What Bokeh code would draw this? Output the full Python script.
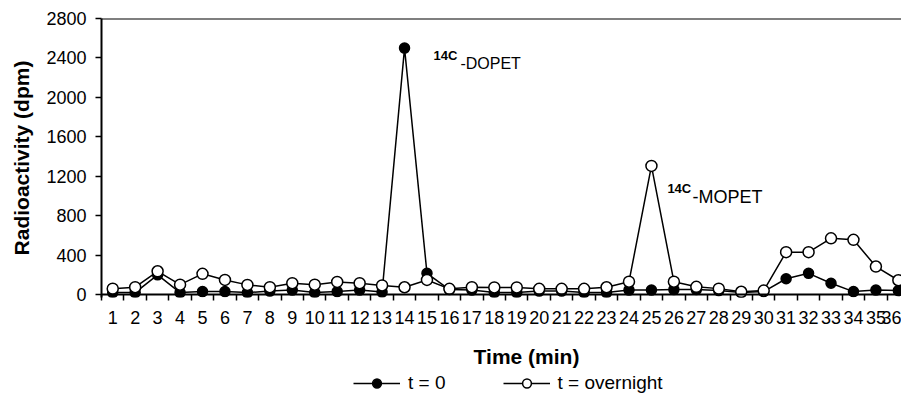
from bokeh.plotting import figure
from bokeh.layouts import column
from bokeh.models import Range1d, FixedTicker, Span, Label, Legend, LegendItem
from bokeh.embed import file_html
from bokeh.resources import INLINE

# ---- data ----
time_min = list(range(1, 37))
x_tick_labels = [str(t) for t in time_min]
dpm_t0 = [20, 20, 200, 20, 30, 30, 20, 35, 45, 20, 30, 45, 25, 2500, 215,
          50, 45, 20, 20, 35, 35, 20, 20, 45, 45, 50, 50, 40, 20, 30,
          160, 215, 115, 30, 45, 40]
dpm_overnight = [60, 75, 236, 100, 210, 148, 98, 75, 115, 100, 128, 115, 92, 74, 148,
                 58, 75, 72, 72, 58, 58, 58, 74, 130, 1305, 130, 78, 60, 28, 40,
                 430, 430, 570, 555, 284, 145]
y_ticks = [0, 400, 800, 1200, 1600, 2000, 2400, 2800]
series_names = ["t = 0", "t = overnight"]
peak_labels = [("14C", "-DOPET"), ("14C", "-MOPET")]
x_title = "Time (min)"
y_title = "Radioactivity (dpm)"

FONT = "Liberation Sans"

p = figure(width=901, height=330, output_backend="svg", toolbar_location=None,
           x_range=Range1d(0.5, 36.14), y_range=Range1d(-30, 2800),
           min_border_left=101, min_border_right=0, min_border_top=18,
           min_border_bottom=33)
p.outline_line_color = None
p.grid.visible = False
p.background_fill_color = "white"
p.border_fill_color = "white"

# x axis (axis line drawn as a span at y = 0)
xa = p.xaxis[0]
xa.ticker = FixedTicker(ticks=time_min, minor_ticks=[t - 0.5 for t in time_min])
xa.major_label_overrides = {t: lab for t, lab in zip(time_min, x_tick_labels)}
xa.major_tick_out = 0
xa.major_tick_in = 0
xa.major_tick_line_color = None
xa.minor_tick_out = 3
xa.minor_tick_in = 3
xa.minor_tick_line_color = "black"
xa.minor_tick_line_width = 1.5
xa.axis_line_color = None
xa.major_label_standoff = 10
xa.major_label_text_font = FONT
xa.major_label_text_font_size = "18px"
xa.major_label_text_color = "black"

# y axis
ya = p.yaxis[0]
ya.ticker = FixedTicker(ticks=y_ticks, minor_ticks=[])
ya.major_tick_out = 6
ya.major_tick_in = 0
ya.major_tick_line_width = 1.5
ya.minor_tick_line_color = None
ya.axis_line_width = 2
ya.axis_line_color = "black"
ya.major_label_standoff = 9
ya.major_label_text_font = FONT
ya.major_label_text_font_size = "18px"
ya.major_label_text_color = "black"
ya.axis_label = y_title
ya.axis_label_text_font = FONT
ya.axis_label_text_font_size = "21px"
ya.axis_label_text_font_style = "bold"
ya.axis_label_text_color = "black"
ya.axis_label_standoff = 10

# top frame line and x axis line at zero
p.add_layout(Span(location=2800, dimension="width", line_color="black", line_width=2))
p.add_layout(Span(location=0, dimension="width", line_color="black", line_width=2))

# series
LINE0 = dict(line_color="black", line_width=1.5)
MARK0 = dict(marker="circle", size=10, fill_color="black", line_color="black", line_width=1.5)
MARK1 = dict(marker="circle", size=11, fill_color="white", line_color="black", line_width=1.5)
p.line(time_min, dpm_t0, **LINE0)
p.scatter(time_min, dpm_t0, **MARK0)
p.line(time_min, dpm_overnight, **LINE0)
p.scatter(time_min, dpm_overnight, **MARK1)

# peak annotations
def peak(xs, ys, xm, ym, sup, main, main_size):
    p.add_layout(Label(x=xs, y=ys, text=sup, text_font=FONT, text_font_size="13px",
                       text_font_style="bold", text_baseline="alphabetic",
                       text_align="left", text_color="black"))
    p.add_layout(Label(x=xm, y=ym, text=main, text_font=FONT, text_font_size=main_size,
                       text_baseline="alphabetic", text_align="left", text_color="black"))

peak(15.29, 2425, 16.49, 2339, peak_labels[0][0], peak_labels[0][1], "16px")
peak(25.71, 1076, 26.83, 985, peak_labels[1][0], peak_labels[1][1], "18px")

# ---- bottom strip: x-axis title and legend (strip ranges in pixels; series data lie outside) ----
q = figure(width=901, height=65, output_backend="svg", toolbar_location=None,
           x_axis_type=None, y_axis_type=None,
           x_range=Range1d(101, 901), y_range=Range1d(0, 65),
           min_border_left=0, min_border_right=0, min_border_top=0, min_border_bottom=0)
q.outline_line_color = None
q.grid.visible = False
q.background_fill_color = "white"
q.border_fill_color = "white"
ql0 = q.line(time_min, dpm_t0, **LINE0)
qs0 = q.scatter(time_min, dpm_t0, **MARK0)
ql1 = q.line(time_min, dpm_overnight, **LINE0)
qs1 = q.scatter(time_min, dpm_overnight, **MARK1)

q.add_layout(Label(x=526, y=39, text=x_title, text_font=FONT,
                   text_font_size="21px", text_font_style="bold",
                   text_align="center", text_baseline="middle", text_color="black"))

legend = Legend(items=[LegendItem(label=series_names[0], renderers=[ql0, qs0]),
                       LegendItem(label=series_names[1], renderers=[ql1, qs1])],
                orientation="horizontal", location=(252, 1),
                glyph_width=47, glyph_height=22, label_standoff=8, spacing=57,
                border_line_color=None, background_fill_alpha=0,
                label_text_font=FONT, label_text_font_size="19px",
                label_text_color="black", padding=0, margin=0)
q.add_layout(legend, "center")

open("out.html", "w").write(file_html(column(p, q, spacing=0), INLINE))
